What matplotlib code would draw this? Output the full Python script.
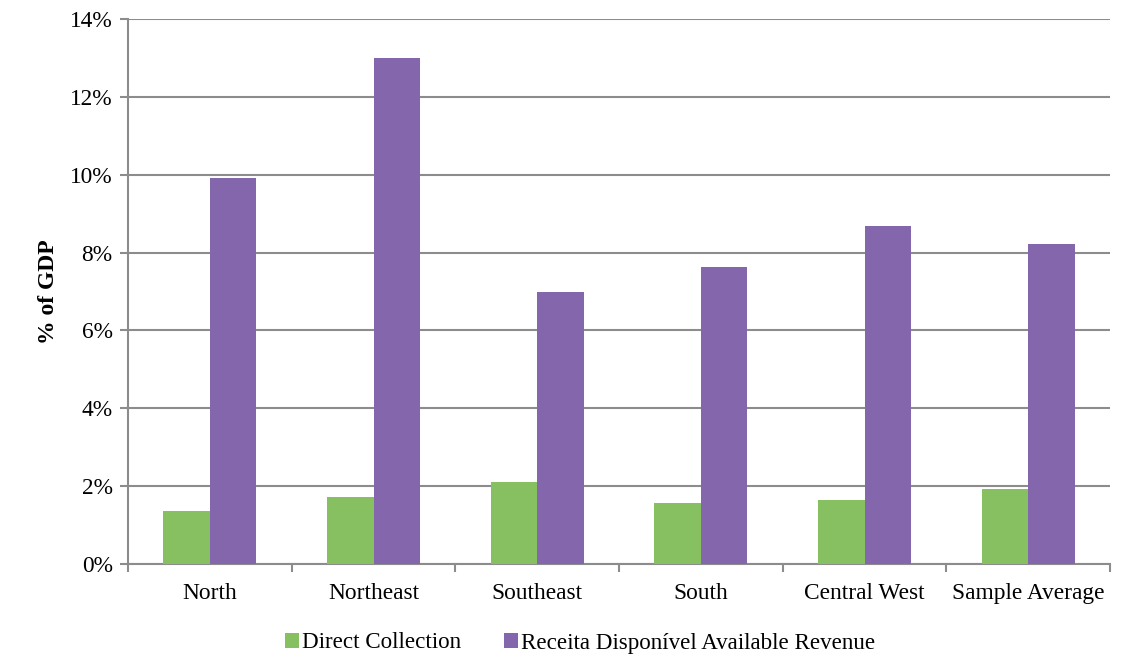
import matplotlib
matplotlib.use("Agg")
import matplotlib.pyplot as plt
import numpy as np
from matplotlib.ticker import FuncFormatter, MultipleLocator

regions = ["North", "Northeast", "Southeast", "South", "Central West", "Sample Average"]
direct_collection = [1.36, 1.72, 2.11, 1.57, 1.64, 1.93]
available_revenue = [9.92, 13.0, 6.99, 7.63, 8.68, 8.22]
series_names = ["Direct Collection", "Receita Disponível Available Revenue"]

green = "#86C060"
purple = "#8466AC"
grid_gray = "#8C8C8C"

plt.rcParams["font.family"] = ["Liberation Serif", "DejaVu Serif"]

fig = plt.figure(figsize=(11.4, 6.58), dpi=100)
ax = fig.add_axes([0.1123, 0.1429, 0.8614, 0.8282])

x = np.arange(len(regions))
w = 0.285
ax.bar(x - w / 2, direct_collection, width=w, color=green, label=series_names[0], zorder=3)
ax.bar(x + w / 2, available_revenue, width=w, color=purple, label=series_names[1], zorder=3)

ax.set_xlim(-0.5, len(regions) - 0.5)
ax.set_ylim(0, 14)
ax.yaxis.set_major_locator(MultipleLocator(2))
ax.yaxis.set_major_formatter(FuncFormatter(lambda v, _: f"{v:.0f}%"))
ax.grid(axis="y", color=grid_gray, linewidth=1.5, zorder=0)

for side in ("top", "right"):
    ax.spines[side].set_visible(False)
for side in ("left", "bottom"):
    ax.spines[side].set_color(grid_gray)
    ax.spines[side].set_linewidth(1.5)

ax.set_xticks(x)
ax.set_xticklabels(regions, fontsize=16.8)
ax.set_xticks(np.arange(len(regions) + 1) - 0.5, minor=True)
ax.tick_params(axis="x", which="major", length=0, pad=14)
ax.tick_params(axis="x", which="minor", length=6, width=1.5, color=grid_gray)
ax.tick_params(axis="y", length=6, width=1.5, color=grid_gray, labelsize=16.8, pad=5)

ax.set_ylabel("% of GDP", fontsize=17, fontweight="bold", labelpad=8)

leg = fig.legend(loc="center", bbox_to_anchor=(0.5088, 1 - 643 / 658), ncol=2, frameon=False,
                 fontsize=16.6, handlelength=0.6, handleheight=0.6, handletextpad=0.1,
                 columnspacing=1.9)

fig.savefig("out.png", dpi=100)
